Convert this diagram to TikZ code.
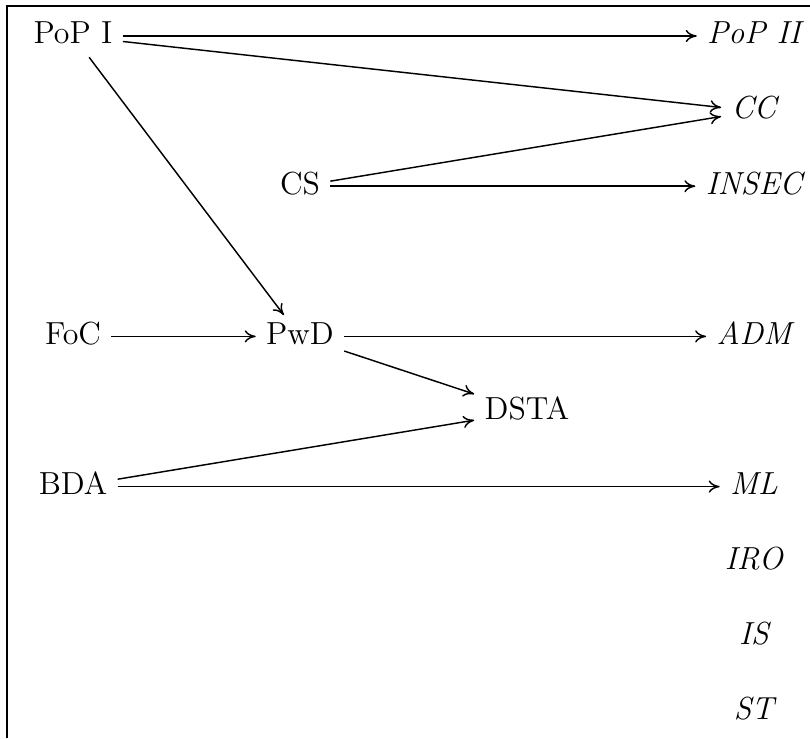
\documentclass[tikz,border=0pt]{standalone}
\usetikzlibrary{positioning,arrows.meta}
\tikzset{>={Computer Modern Rightarrow[length=3.8pt,width=4.2pt]}}
\begin{document}
\begin{tikzpicture}[line width=0.5pt, course/.style={font=\fontsize{11}{13.6}\selectfont, text height=1.5ex, text depth=.25ex}, later/.style={course, font=\fontsize{11}{13.6}\selectfont\itshape}]
      \useasboundingbox (-0.885,0.436) rectangle (8.93,-8.51);
      \draw (-0.80,-8.51) -- (-0.80,0.364) -- (8.93,0.364);
      \node[course] (n0) {PoP I};
      \node[later, right of=n0, node distance=8.25cm] (n1) {PoP II};
      \node[later, below of=n1, node distance=0.91cm] (n2) {CC};
      \node[course] (n3) at (2.75,-1.82) {CS};
      \node[later, right of=n3, node distance=5.5cm] (n4) {INSEC};
      \node[course] (n5) at (0,-3.64) {FoC};
      \node[course, right of=n5, node distance=2.75cm] (n6) {PwD};
      \node[later, right of=n6, node distance=5.5cm] (n7) {ADM};
      \node[course] (n8) at (5.5,-4.55) {DSTA};
      \node[course] (n9) at (0,-5.46) {BDA};
      \node[later, right of=n9, node distance=8.25cm] (n10) {ML};
      \node[later, below of=n10, node distance=0.91cm] (n11) {IRO};
      \node[later, below of=n11, node distance=0.91cm] (n12) {IS};
      \node[later, below of=n12, node distance=0.91cm] (n13) {ST};
      \draw[->] (n0) to (n1);
      \draw[->] (n0) to (n2);
      \draw[->] (n0) to (n6);
      \draw[->] (n3) to (n2);
      \draw[->] (n3) to (n4);
      \draw[->] (n5) to (n6);
      \draw[->] (n6) to (n7);
      \draw[->] (n6) to (n8);
      \draw[->] (n9) to (n8);
      \draw[->] (n9) to (n10);
    \end{tikzpicture}
\end{document}
